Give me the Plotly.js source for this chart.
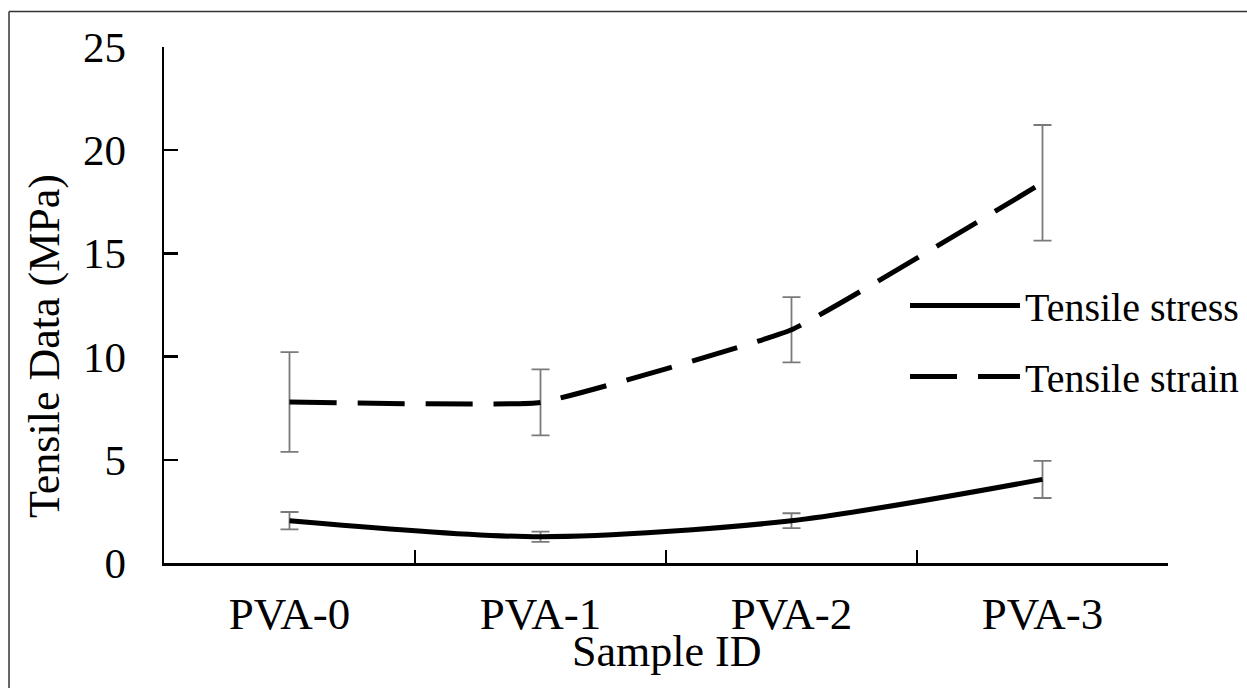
<!DOCTYPE html>
<html>
<head>
<meta charset="utf-8">
<script src="https://cdn.plot.ly/plotly-3.0.1.min.js"></script>
<style>
html,body{margin:0;padding:0;background:#fff;}
#chart{width:1247px;height:688px;}
</style>
</head>
<body>
<div id="chart"></div>
<script>
// Data
const categories = ["PVA-0", "PVA-1", "PVA-2", "PVA-3"];
const stressValues = [2.05, 1.27, 2.05, 4.05];
const stressErrors = [0.42, 0.25, 0.36, 0.9];
const strainValues = [7.8, 7.78, 11.3, 18.42];
const strainErrors = [2.42, 1.6, 1.58, 2.8];
const seriesNames = ["Tensile stress", "Tensile strain"];
const yTickValues = [0, 5, 10, 15, 20, 25];
const xTitle = "Sample ID";
const yTitle = "Tensile Data (MPa)";

const FONT = "Liberation Serif, Times New Roman, serif";

const errStyle = {type: "data", visible: true, color: "#7a7a7a", thickness: 1.8, width: 9};

const traces = [
  {
    x: categories, y: stressValues, name: seriesNames[0], type: "scatter", mode: "lines",
    line: {color: "#000", width: 5, shape: "spline", smoothing: 0.8},
    error_y: Object.assign({array: stressErrors}, errStyle),
    legendgroup: "a"
  },
  {
    x: categories, y: strainValues, name: seriesNames[1], type: "scatter", mode: "lines",
    line: {color: "#000", width: 5, shape: "spline", smoothing: 0.3, dash: "47px,21px"},
    error_y: Object.assign({array: strainErrors}, errStyle),
    legendgroup: "b"
  }
];

const L = 164, R = 79, T = 47, B = 125, W = 1247, H = 688;
const pw = W - L - R, ph = H - T - B;
const px = v => (v - L) / pw;
const py = v => (H - B - v) / ph;

const layout = {
  width: W, height: H,
  margin: {l: L, r: R, t: T, b: B, pad: 0, autoexpand: false},
  paper_bgcolor: "#fff", plot_bgcolor: "#fff",
  font: {family: FONT, color: "#000"},
  showlegend: true,
  legend: {
    x: px(905), y: py(273), xanchor: "left", yanchor: "top",
    font: {family: FONT, size: 40, color: "#000"},
    bgcolor: "rgba(0,0,0,0)", borderwidth: 0,
    traceorder: "grouped", tracegroupgap: 16,
    itemwidth: 110
  },
  xaxis: {
    type: "category", range: [-0.5, 3.5],
    showgrid: false, zeroline: false,
    showline: true, linecolor: "#000", linewidth: 2.5,
    ticks: "inside", ticklen: 13, tickwidth: 2.5, tickcolor: "#000",
    tickson: "boundaries",
    tickfont: {family: FONT, size: 45, color: "#000"},
    ticklabelstandoff: 9,
    automargin: false,
    fixedrange: true
  },
  yaxis: {
    range: [0, 25], tickvals: yTickValues,
    showgrid: false, zeroline: false,
    showline: true, linecolor: "#000", linewidth: 2.5,
    ticks: "inside", ticklen: 14, tickwidth: 2.5, tickcolor: "#000",
    tickfont: {family: FONT, size: 43, color: "#000"},
    ticklabelstandoff: 27,
    automargin: false,
    fixedrange: true
  },
  annotations: [
    {text: xTitle, xref: "paper", yref: "paper", x: 0.5, y: py(651), xanchor: "center", yanchor: "middle",
     showarrow: false, font: {family: FONT, size: 44, color: "#000"}},
    {text: yTitle, xref: "paper", yref: "paper", x: px(45), y: py(346), xanchor: "center", yanchor: "middle",
     textangle: -90, showarrow: false, font: {family: FONT, size: 44, color: "#000"}}
  ],
  shapes: [
    {type: "line", xref: "paper", yref: "paper", x0: px(9), x1: px(1250), y0: py(11.5), y1: py(11.5),
     line: {color: "#333", width: 1.5}},
    {type: "line", xref: "paper", yref: "paper", x0: px(9), x1: px(9), y0: py(11.5), y1: py(690),
     line: {color: "#333", width: 1.5}}
  ]
};

Plotly.newPlot("chart", traces, layout, {displayModeBar: false, staticPlot: true});
</script>
</body>
</html>
